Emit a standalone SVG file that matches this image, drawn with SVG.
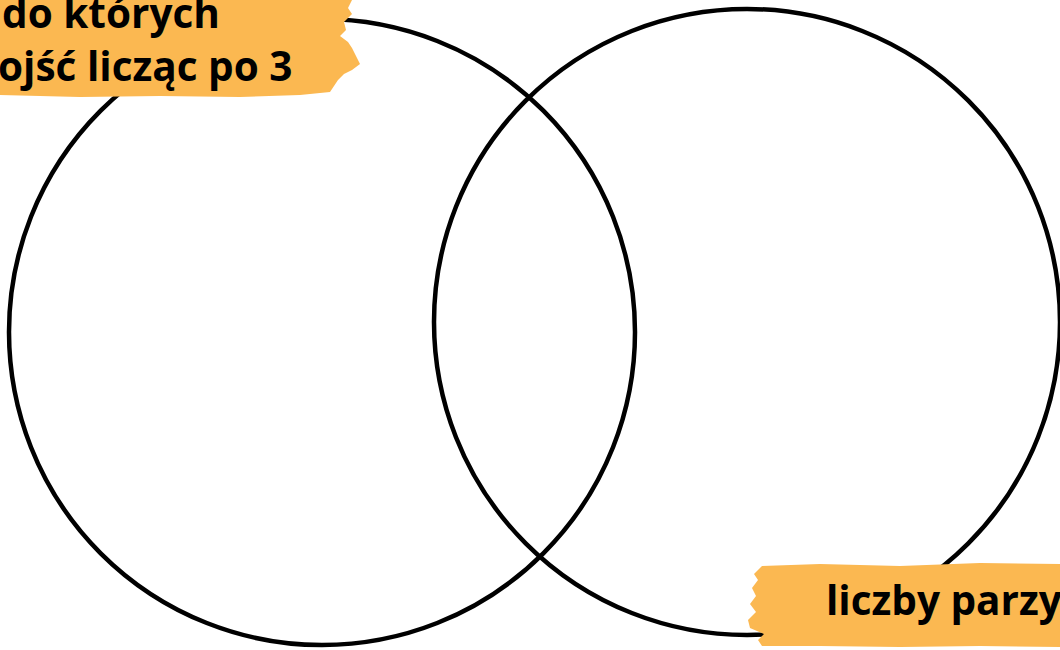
<svg xmlns="http://www.w3.org/2000/svg" width="1060" height="650" viewBox="0 0 1060 650">
<style>
.ring{fill:none;stroke:#000;stroke-width:4.5}
.brush{fill:#FBB851}
.lbl{font-family:"Open Sans","Noto Sans","Liberation Sans",sans-serif;font-weight:700;font-size:40.5px;fill:#000}
</style>
<rect width="1060" height="650" fill="#fff"/>
<g id="set-a"><circle class="ring" cx="322" cy="332" r="313"/></g>
<g id="set-b"><circle class="ring" cx="747" cy="322" r="313"/></g>
<g id="label-a">
<path class="brush" d="M0,0 L352,0 L348,8 L352,14 L344,22 L346,30 L340,36 L348,42 L352,48 L356,56 L360,64 L352,70 L344,74 L338,80 L334,86 L330,92 L300,95 L240,97 L160,96 L80,97 L0,95 Z"/>
<text class="lbl" x="2" y="28">do których</text>
<text class="lbl" x="-2" y="81">ojść licząc po 3</text>
</g>
<g id="label-b">
<path class="brush" d="M762,566 L820,564 L900,566 L980,563 L1060,564 L1060,647 L980,646 L900,647 L820,646 L762,646 L758,640 L764,634 L750,628 L748,620 L756,612 L750,604 L756,596 L752,588 L758,580 L754,574 Z"/>
<text class="lbl" x="826" y="615">liczby parzy</text>
</g>
</svg>
